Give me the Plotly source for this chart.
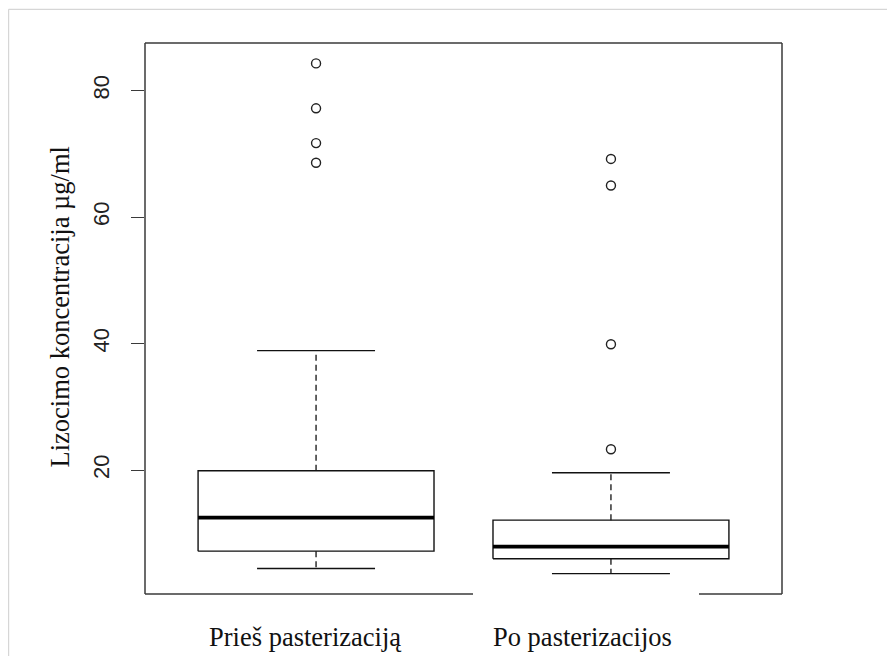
import plotly.graph_objects as go

# ---------------- data ----------------
categories = ["Prieš pasterizaciją", "Po pasterizacijos"]
q1 = [7.2, 6.0]
median = [12.5, 7.9]
q3 = [19.9, 12.1]
lower_whisker = [4.45, 3.65]
upper_whisker = [38.9, 19.6]
outliers_before = [68.6, 71.7, 77.2, 84.3]
outliers_after = [23.3, 39.9, 65.0, 69.2]
y_tick_values = [20, 40, 60, 80]
y_title = "Lizocimo koncentracija µg/ml"

outliers = [outliers_before, outliers_after]

# ---------------- styling constants ----------------
OFF = 8                      # page body margin of the browser
W, H = 895 - OFF, 656 - OFF  # figure size in the visible window
# plot-area edges in screen pixels (reference)
SL, SR, ST, SB = 145, 782, 43, 594
ML, MT = SL - OFF, ST - OFF
MR, MB = W - (SR - OFF), H - (SB - OFF)
PW, PH = W - ML - MR, H - MT - MB
BOX_HALF = 0.4
CAP_HALF = 0.2
LINE = "#111111"
FRAME = "#3a3a3a"
SERIF = "Liberation Serif, Times New Roman, serif"
SANS = "Liberation Sans, Arial, sans-serif"


def px_x(p):
    """screen x pixel -> paper fraction"""
    return (p - OFF - ML) / PW


def px_y(p):
    """screen y pixel -> paper fraction"""
    return (H - MB - (p - OFF)) / PH


fig = go.Figure()

for i, cat in enumerate(categories):
    xc = i + 1
    fig.add_trace(go.Scatter(
        x=[xc - BOX_HALF, xc + BOX_HALF, xc + BOX_HALF, xc - BOX_HALF, xc - BOX_HALF],
        y=[q1[i], q1[i], q3[i], q3[i], q1[i]],
        mode="lines", line=dict(color=LINE, width=1.4), hoverinfo="skip"))
    fig.add_trace(go.Scatter(
        x=[xc - BOX_HALF, xc + BOX_HALF], y=[median[i], median[i]],
        mode="lines", line=dict(color="#000000", width=3.8), name=cat))
    for a, b in ((q3[i], upper_whisker[i]), (q1[i], lower_whisker[i])):
        fig.add_trace(go.Scatter(
            x=[xc, xc], y=[a, b], mode="lines",
            line=dict(color=LINE, width=1.3, dash="6px,4px"), hoverinfo="skip"))
    for v in (upper_whisker[i], lower_whisker[i]):
        fig.add_trace(go.Scatter(
            x=[xc - CAP_HALF, xc + CAP_HALF], y=[v, v], mode="lines",
            line=dict(color=LINE, width=1.4), hoverinfo="skip"))
    fig.add_trace(go.Scatter(
        x=[xc] * len(outliers[i]), y=outliers[i], mode="markers",
        marker=dict(symbol="circle-open", size=9, color="#222222",
                    line=dict(width=1.4, color="#222222"))))

all_vals = lower_whisker + upper_whisker + outliers_before + outliers_after
lo, hi = min(all_vals), max(all_vals)
pad = 0.04 * (hi - lo)
n = len(categories)
xpad = 0.04 * n

frame_segments = [
    (px_x(SL), px_y(ST), px_x(SL), px_y(SB)),
    (px_x(SL), px_y(ST), px_x(SR), px_y(ST)),
    (px_x(SR), px_y(ST), px_x(SR), px_y(SB)),
    (px_x(SL), px_y(SB), px_x(473), px_y(SB)),
    (px_x(699), px_y(SB), px_x(SR), px_y(SB)),
]
shapes = [dict(type="line", xref="paper", yref="paper", x0=a, y0=b, x1=c, y1=d,
               line=dict(color=FRAME, width=1.5)) for a, b, c, d in frame_segments]
shapes.append(dict(type="line", xref="paper", yref="paper",
                   x0=px_x(8.6), y0=px_y(9.3), x1=px_x(8.6), y1=px_y(660),
                   line=dict(color="#d6d6d6", width=1.2)))
shapes.append(dict(type="line", xref="paper", yref="paper",
                   x0=px_x(8.6), y0=px_y(9.3), x1=px_x(900), y1=px_y(9.3),
                   line=dict(color="#d6d6d6", width=1.2)))

label_shift = [-11, -28]
annotations = [
    dict(x=i + 1, xref="x", y=0, yref="paper", text=cat, showarrow=False,
         xanchor="center", yanchor="top", xshift=label_shift[i], yshift=-26,
         font=dict(family=SERIF, size=26.5, color="#111111"))
    for i, cat in enumerate(categories)
]
annotations.append(dict(
    x=px_x(59), y=px_y(307.5), xref="paper", yref="paper", text=y_title,
    textangle=-90, showarrow=False, xanchor="center", yanchor="middle",
    font=dict(family=SERIF, size=26.5, color="#111111")))

fig.update_layout(
    width=W, height=H, autosize=False,
    margin=dict(l=ML, r=MR, t=MT, b=MB, pad=0),
    paper_bgcolor="white", plot_bgcolor="white",
    showlegend=False,
    shapes=shapes, annotations=annotations,
    xaxis=dict(range=[0.5 - xpad, n + 0.5 + xpad], showticklabels=False,
               showgrid=False, zeroline=False, showline=False, ticks=""),
    yaxis=dict(range=[lo - pad, hi + pad], tickmode="array", tickvals=y_tick_values,
               ticks="outside", ticklen=13, tickwidth=1.4, tickcolor=FRAME,
               tickangle=-90, ticklabelstandoff=13,
               tickfont=dict(family=SANS, size=22, color="#222222"),
               showgrid=False, zeroline=False, showline=False),
)

fig.write_html("out.html")
